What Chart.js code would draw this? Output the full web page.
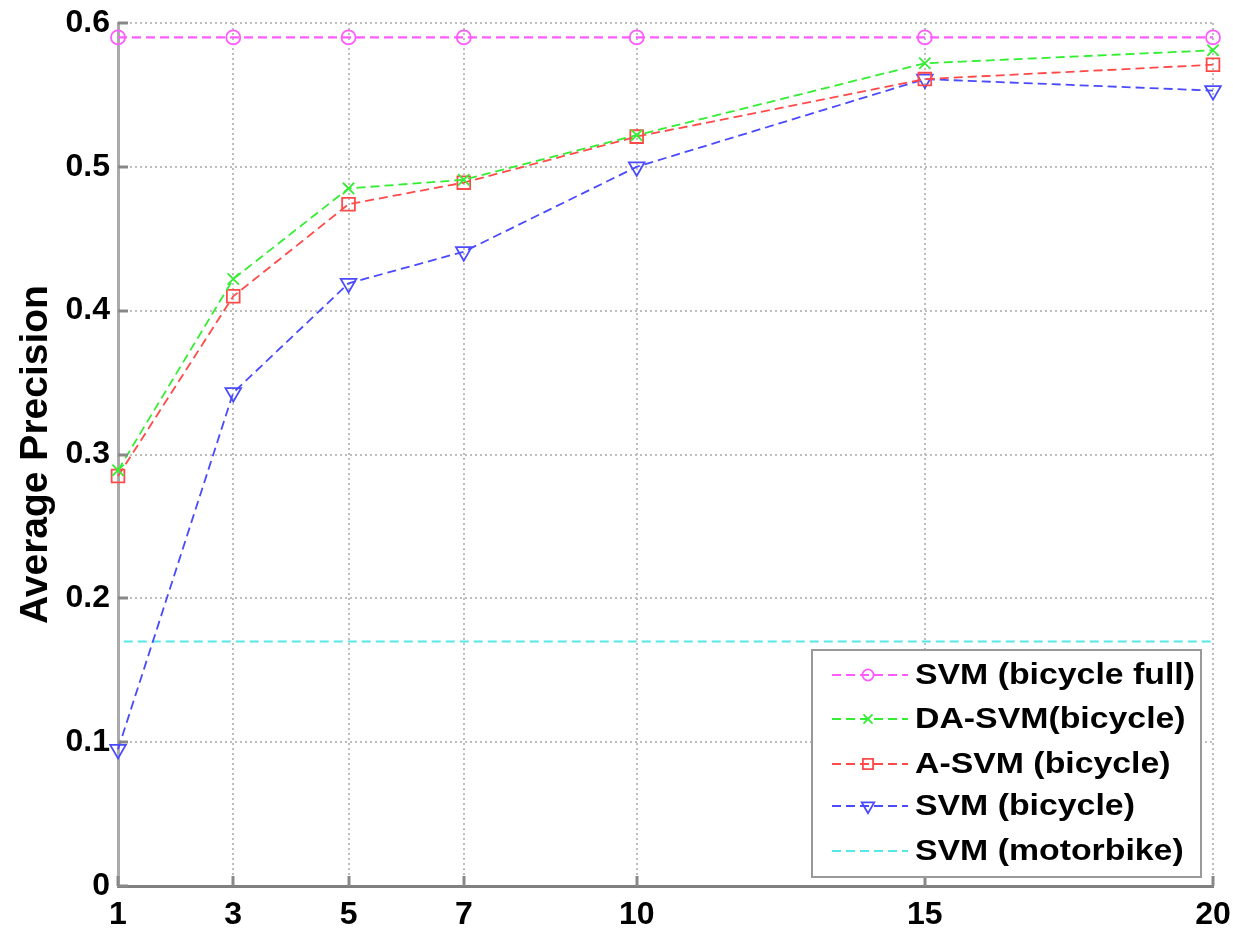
<!DOCTYPE html>
<html>
<head>
<meta charset="utf-8">
<script src="https://cdn.jsdelivr.net/npm/chart.js@4.4.0/dist/chart.umd.min.js"></script>
<style>
html,body{margin:0;padding:0;background:#fff;}
#wrap{width:1233px;height:928px;position:relative;}
</style>
</head>
<body>
<div id="wrap"><canvas id="c" width="1233" height="928"></canvas></div>
<script>
const xValues = [1, 3, 5, 7, 10, 15, 20];
const xTicks = [1, 3, 5, 7, 10, 15, 20];
const yTicks = [0, 0.1, 0.2, 0.3, 0.4, 0.5, 0.6];
const svmFull = [0.590, 0.590, 0.590, 0.590, 0.590, 0.590, 0.590];
const daSvm = [0.289, 0.422, 0.485, 0.491, 0.522, 0.572, 0.581];
const aSvm = [0.285, 0.410, 0.474, 0.489, 0.521, 0.561, 0.571];
const svmBike = [0.095, 0.343, 0.419, 0.441, 0.500, 0.561, 0.553];
const motorX = [1.1, 20];
const motorY = [0.170, 0.170];
const seriesNames = ['SVM (bicycle full)', 'DA-SVM(bicycle)', 'A-SVM (bicycle)', 'SVM (bicycle)', 'SVM (motorbike)'];

const pts = (xs, ys) => xs.map((x, i) => ({x: x, y: ys[i]}));
const FONT = '"Liberation Sans", Arial, sans-serif';

const styles = [
  {color: '#ff5cff', point: 'circle', r: 7, rot: 0, w: 2.4},
  {color: '#33ee33', point: 'crossRot', r: 8, rot: 0, w: 1.8},
  {color: '#ff4a4a', point: 'rect', r: 9, rot: 0, w: 1.8},
  {color: '#4a4aff', point: 'triangle', r: 9, rot: 180, w: 1.8},
  {color: '#55e8e8', point: false, r: 0, rot: 0, w: 2.2}
];
const dataSets = [pts(xValues, svmFull), pts(xValues, daSvm), pts(xValues, aSvm), pts(xValues, svmBike), pts(motorX, motorY)];

const datasets = dataSets.map((d, i) => ({
  label: seriesNames[i],
  data: d,
  borderColor: styles[i].color,
  backgroundColor: 'rgba(0,0,0,0)',
  borderWidth: styles[i].w,
  borderDash: [9, 5],
  pointStyle: styles[i].point,
  pointRadius: styles[i].r,
  pointRotation: styles[i].rot,
  pointBorderColor: styles[i].color,
  pointBorderWidth: 1.8,
  pointBackgroundColor: 'rgba(0,0,0,0)',
  tension: 0,
  fill: false,
  clip: false
}));

const innerTicks = {
  id: 'innerTicks',
  afterDatasetsDraw(chart) {
    const ctx = chart.ctx, a = chart.chartArea;
    const xs = chart.scales.x, ys = chart.scales.y;
    ctx.save();
    ctx.strokeStyle = '#888';
    ctx.lineWidth = 3;
    yTicks.forEach(v => {
      const y = Math.round(ys.getPixelForValue(v));
      ctx.beginPath(); ctx.moveTo(a.left, y); ctx.lineTo(a.left + 10, y); ctx.stroke();
    });
    xTicks.forEach(v => {
      const x = Math.round(xs.getPixelForValue(v));
      ctx.beginPath(); ctx.moveTo(x, a.bottom); ctx.lineTo(x, a.bottom - 10); ctx.stroke();
    });
    ctx.restore();
  }
};

const boxLegend = {
  id: 'boxLegend',
  afterDraw(chart) {
    const ctx = chart.ctx;
    const bx = 812, by = 650, bw = 389, bh = 227;
    ctx.save();
    ctx.fillStyle = '#fff';
    ctx.fillRect(bx, by, bw, bh);
    ctx.strokeStyle = '#999';
    ctx.lineWidth = 2;
    ctx.strokeRect(bx, by, bw, bh);
    const rows = [675, 719, 764, 806, 851];
    ctx.font = 'bold 29px ' + FONT;
    ctx.textBaseline = 'middle';
    const sx = 280 / ctx.measureText(seriesNames[0]).width;
    chart.data.datasets.forEach((ds, i) => {
      const y = rows[i];
      ctx.save();
      ctx.strokeStyle = ds.borderColor;
      ctx.lineWidth = 2;
      ctx.setLineDash([9, 5]);
      ctx.beginPath(); ctx.moveTo(832, y); ctx.lineTo(908, y); ctx.stroke();
      ctx.setLineDash([]);
      if (ds.pointStyle) {
        ctx.strokeStyle = ds.pointBorderColor;
        ctx.fillStyle = 'rgba(0,0,0,0)';
        ctx.lineWidth = 1.8;
        Chart.helpers.drawPoint(ctx, {pointStyle: ds.pointStyle, radius: ds.pointRadius * 0.8, rotation: ds.pointRotation, borderWidth: 1.8}, 868, y);
      }
      ctx.restore();
      ctx.save();
      ctx.translate(915, y + 1);
      ctx.scale(sx, 1);
      ctx.fillStyle = '#000';
      ctx.fillText(ds.label, 0, 0);
      ctx.restore();
    });
    ctx.restore();
  }
};

new Chart(document.getElementById('c'), {
  type: 'line',
  data: {datasets: datasets},
  plugins: [innerTicks, boxLegend],
  options: {
    responsive: false,
    animation: false,
    layout: {padding: {top: 23, right: 20, left: 0, bottom: 0}},
    plugins: {legend: {display: false}, tooltip: {enabled: false}},
    scales: {
      x: {
        type: 'linear', min: 1, max: 20,
        afterBuildTicks: s => { s.ticks = xTicks.map(v => ({value: v})); },
        afterFit: s => { s.height = 42; s.paddingLeft = 0; s.paddingRight = 0; },
        grid: {color: '#bdbdbd', lineWidth: 2, drawTicks: false},
        border: {display: true, color: '#808080', width: 3, dash: [2, 3]},
        ticks: {color: '#000', padding: 10, maxRotation: 0, font: {family: FONT, size: 32, weight: 'bold'}}
      },
      y: {
        type: 'linear', min: 0, max: 0.6,
        afterBuildTicks: s => { s.ticks = yTicks.map(v => ({value: v})); },
        afterFit: s => { s.width = 118; s.paddingTop = 0; s.paddingBottom = 0; },
        grid: {color: '#bdbdbd', lineWidth: 2, drawTicks: false},
        border: {display: true, color: '#aaa', width: 3, dash: [2, 3]},
        ticks: {color: '#000', padding: 8, font: {family: FONT, size: 32, weight: 'bold'},
          callback: v => (v === 0 ? '0' : v.toFixed(1))},
        title: {display: true, text: 'Average Precision', color: '#000', padding: {top: 13, bottom: 0},
          font: {family: FONT, size: 39, weight: 'bold'}}
      }
    }
  }
});
</script>
</body>
</html>
